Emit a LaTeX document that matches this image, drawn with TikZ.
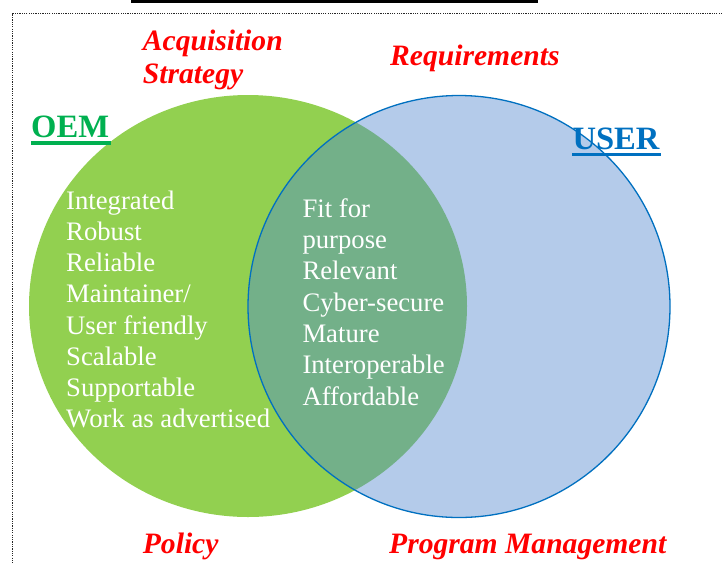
\documentclass[tikz,border=0pt]{standalone}
\usepackage{fontspec}
\setmainfont{Liberation Serif}
\definecolor{oemgreen}{HTML}{92D050}
\definecolor{userblue}{HTML}{B4CBEA}
\definecolor{overlapc}{HTML}{73B089}
\definecolor{edgeblue}{HTML}{0070C0}
\definecolor{oemtext}{HTML}{00B050}
\definecolor{redlab}{HTML}{FF0000}
\tikzset{
  redlabel/.style={anchor=base west, inner sep=0pt, text=redlab,
    font=\fontsize{29.6}{32}\selectfont\bfseries\itshape},
  itemtext/.style={anchor=base west, inner sep=0pt, text=white,
    font=\fontsize{26.7}{31}\selectfont},
  headtext/.style={anchor=base west, inner sep=0pt,
    font=\fontsize{32.6}{36}\selectfont\bfseries},
  frameline/.style={line width=1.3pt, draw=black!85, dash pattern=on 1.2pt off 1.1pt}
}
\begin{document}
\begin{tikzpicture}[x=1pt,y=-1pt]
\useasboundingbox (0,0) rectangle (722,563);
% top black bar
\fill[black] (131,0) rectangle (538,2.6);
% dotted frame (top and left visible)
\draw[frameline] (722,13.5) -- (12.5,13.5) -- (12.5,563);
% circles
\fill[oemgreen] (248,306) ellipse [x radius=219, y radius=211];
\fill[userblue] (459,306.5) circle [radius=211];
\begin{scope}
  \clip (248,306) ellipse [x radius=219, y radius=211];
  \fill[overlapc] (459,306.5) circle [radius=211];
\end{scope}
\draw[edgeblue, line width=1.3pt] (459,306.5) circle [radius=211];
% headings
\node[headtext, text=oemtext] (oem) at (31,137.3) {OEM};
\fill[oemtext] (31,141.3) rectangle (110.7,144.7);
\node[headtext, text=edgeblue] (user) at (572.3,149.3) {USER};
\fill[edgeblue] (572.3,152.7) rectangle (660.7,156);
% red labels
\node[redlabel] (acq) at (142.7,50.7) {Acquisition};
\node[redlabel] (strat) at (142.7,83.3) {Strategy};
\node[redlabel] (req) at (390,65) {Requirements};
\node[redlabel] (pol) at (142.7,553) {Policy};
\node[redlabel] (pm) at (389,553) {Program Management};
% OEM list
\foreach \t [count=\i] in {Integrated,Robust,Reliable,Maintainer/,User friendly,Scalable,Supportable,Work as advertised}
  \node[itemtext] (oemitem\i) at (66,{209.3+31.2*(\i-1)}) {\t};
% overlap list
\foreach \t [count=\i] in {Fit for,purpose,Relevant,Cyber-secure,Mature,Interoperable,Affordable}
  \node[itemtext] (both\i) at (302.3,{217.3+31.3*(\i-1)}) {\t};
\end{tikzpicture}
\end{document}
